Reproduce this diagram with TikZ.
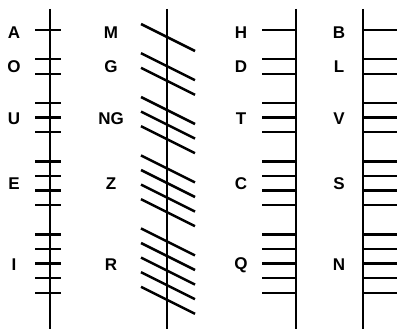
\documentclass[tikz,border=0pt]{standalone}
\usepackage{fontspec}
\setmainfont{Liberation Sans}
\begin{document}
\begin{tikzpicture}[x=1pt,y=-1pt,
  stem/.style={line width=2.7pt},
  tick/.style={line width=2.5pt},
  lbl/.style={font=\fontsize{17}{17}\selectfont\bfseries, anchor=center, inner sep=0pt}]
\useasboundingbox (0,0) rectangle (399,329);
% stems
\foreach \sx/\nm in {50/s1,167/s2,296/s3,363/s4}{
  \coordinate (\nm top) at (\sx,9);
  \coordinate (\nm bot) at (\sx,329);
  \draw[stem] (\nm top) -- (\nm bot);
}
% strokes
\foreach \k in {0,2,3,5,6,7,9,10,11,12,14,15,16,17,18}{
  \pgfmathsetmacro{\yy}{30+14.6*\k}
  \draw[tick] (35,\yy) -- (61,\yy);
  \draw[tick] (141,\yy-6) -- (195,\yy+21);
  \draw[tick] (262,\yy) -- (296,\yy);
  \draw[tick] (363,\yy) -- (397,\yy);
}
% labels
\foreach \yy/\a/\b/\c/\d [count=\i] in {33/A/M/H/B, 67/O/G/D/L, 119/U/NG/T/V, 184/E/Z/C/S, 265/I/R/Q/N}{
  \node[lbl] (la\i) at (14,\yy) {\a};
  \node[lbl] (lb\i) at (111,\yy) {\b};
  \node[lbl] (lc\i) at (241,\yy) {\c};
  \node[lbl] (ld\i) at (339,\yy) {\d};
}
\end{tikzpicture}
\end{document}
